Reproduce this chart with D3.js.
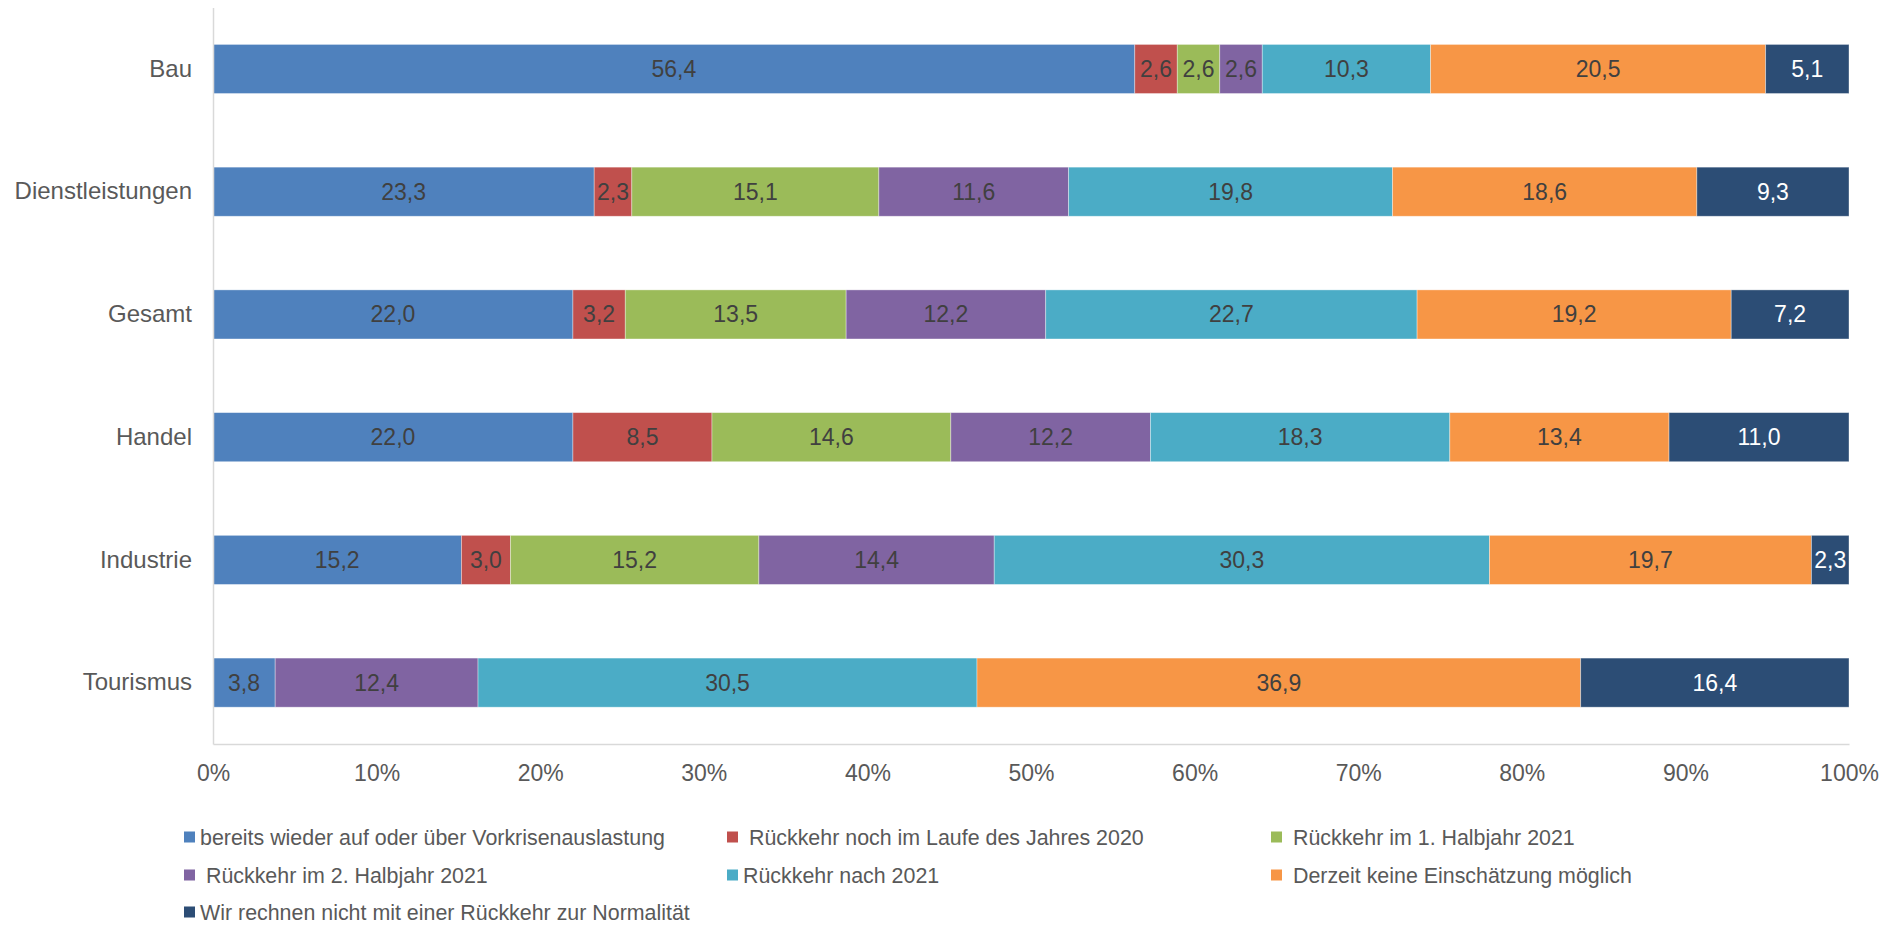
<!DOCTYPE html>
<meta charset="utf-8">
<script src="https://d3js.org/d3.v7.min.js"></script>
<style>
  body { margin: 0; background: #fff; }
  text { font-family: "Liberation Sans", Arial, sans-serif; }
</style>
<div id="chart"></div>
<script>
// categories (top to bottom)
var branchen = ["Bau", "Dienstleistungen", "Gesamt", "Handel", "Industrie", "Tourismus"];

// series names (legend order)
var serien = [
  "bereits wieder auf oder über Vorkrisenauslastung",
  " Rückkehr noch im Laufe des Jahres 2020",
  " Rückkehr im 1. Halbjahr 2021",
  " Rückkehr im 2. Halbjahr 2021",
  "Rückkehr nach 2021",
  " Derzeit keine Einschätzung möglich",
  "Wir rechnen nicht mit einer Rückkehr zur Normalität"
];

// values per series, one per branch (in %)
var bereits    = [56.4, 23.3, 22.0, 22.0, 15.2, 3.8];
var noch2020   = [2.6, 2.3, 3.2, 8.5, 3.0, 0];
var halbjahr1  = [2.6, 15.1, 13.5, 14.6, 15.2, 0];
var halbjahr2  = [2.6, 11.6, 12.2, 12.2, 14.4, 12.4];
var nach2021   = [10.3, 19.8, 22.7, 18.3, 30.3, 30.5];
var keine      = [20.5, 18.6, 19.2, 13.4, 19.7, 36.9];
var nieNormal  = [5.1, 9.3, 7.2, 11.0, 2.3, 16.4];

var xTicks = [0, 0.1, 0.2, 0.3, 0.4, 0.5, 0.6, 0.7, 0.8, 0.9, 1];

var farben = ["#4F81BD", "#C0504D", "#9BBB59", "#8064A2", "#4BACC6", "#F79646", "#2C4D75"];

var reihen = [bereits, noch2020, halbjahr1, halbjahr2, nach2021, keine, nieNormal];
var keys = d3.range(serien.length).map(String);
var tabelle = branchen.map(function(b, i) {
  var row = { branche: b };
  reihen.forEach(function(r, k) { row[k] = r[i]; });
  return row;
});

var W = 1894, H = 926;
var margin = { top: 7.6, right: 45, bottom: 182, left: 213 };
var width = W - margin.left - margin.right,
    height = H - margin.top - margin.bottom;

var svg = d3.select("#chart").append("svg")
  .attr("width", W).attr("height", H);
var g = svg.append("g")
  .attr("transform", "translate(" + margin.left + "," + margin.top + ")");

var x = d3.scaleLinear().domain([0, 1]).range([0, width]);
var y = d3.scaleBand().domain(branchen).range([0, height])
  .paddingInner(0.6).paddingOuter(0.3);

var stack = d3.stack().keys(keys).offset(d3.stackOffsetExpand);
var series = stack(tabelle);

var de = d3.formatLocale({ decimal: ",", thousands: ".", grouping: [3], currency: ["", "€"] });
var fmt = de.format(".1f");

var layer = g.selectAll("g.serie")
  .data(series)
  .enter().append("g")
  .attr("class", "serie")
  .attr("fill", function(d) { return farben[+d.key]; });

layer.selectAll("rect")
  .data(function(d) { return d; })
  .enter().append("rect")
  .attr("x", function(d) { return x(d[0]); })
  .attr("y", function(d) { return y(d.data.branche); })
  .attr("width", function(d) { return x(d[1]) - x(d[0]); })
  .attr("height", y.bandwidth())
  .attr("stroke", "#fff")
  .attr("stroke-opacity", 0.45)
  .attr("stroke-width", 0.8);

layer.selectAll("text")
  .data(function(d) {
    return d.map(function(p) { return { p: p, k: +d.key }; })
      .filter(function(o) { return o.p.data[o.k] > 0; });
  })
  .enter().append("text")
  .attr("x", function(o) { return (x(o.p[0]) + x(o.p[1])) / 2; })
  .attr("y", function(o) { return y(o.p.data.branche) + y.bandwidth() / 2; })
  .attr("dy", "0.35em")
  .attr("text-anchor", "middle")
  .attr("font-size", 23)
  .attr("fill", function(o) { return o.k === 6 ? "#ffffff" : "#404040"; })
  .text(function(o) { return fmt(o.p.data[o.k]); });

// axes
var yAxis = g.append("g")
  .call(d3.axisLeft(y).tickSize(0).tickPadding(21));
yAxis.select(".domain").attr("stroke", "#D9D9D9").attr("stroke-width", 1.5);
yAxis.selectAll("text").attr("font-size", 24).attr("fill", "#595959")
  .attr("font-family", "Liberation Sans, Arial, sans-serif");

var xAxis = g.append("g")
  .attr("transform", "translate(0," + height + ")")
  .call(d3.axisBottom(x).tickValues(xTicks).tickSize(0).tickFormat(d3.format(".0%")));
xAxis.select(".domain").attr("stroke", "#D9D9D9").attr("stroke-width", 1.5);
xAxis.selectAll("text")
  .attr("y", 29).attr("dy", "0.35em")
  .attr("font-size", 23).attr("fill", "#595959")
  .attr("font-family", "Liberation Sans, Arial, sans-serif");

// legend
var legX = [184, 727, 1271], legY = [837, 875, 912];
var legend = svg.append("g").selectAll("g")
  .data(serien)
  .enter().append("g")
  .attr("transform", function(d, i) {
    return "translate(" + legX[i % 3] + "," + legY[Math.floor(i / 3)] + ")";
  });
legend.append("rect")
  .attr("x", 0).attr("y", -5.5).attr("width", 11).attr("height", 11)
  .attr("fill", function(d, i) { return farben[i]; });
legend.append("text")
  .attr("x", 16).attr("dy", "0.35em")
  .attr("font-size", 21.4).attr("fill", "#595959")
  .style("white-space", "pre")
  .text(function(d) { return d; });
</script>
